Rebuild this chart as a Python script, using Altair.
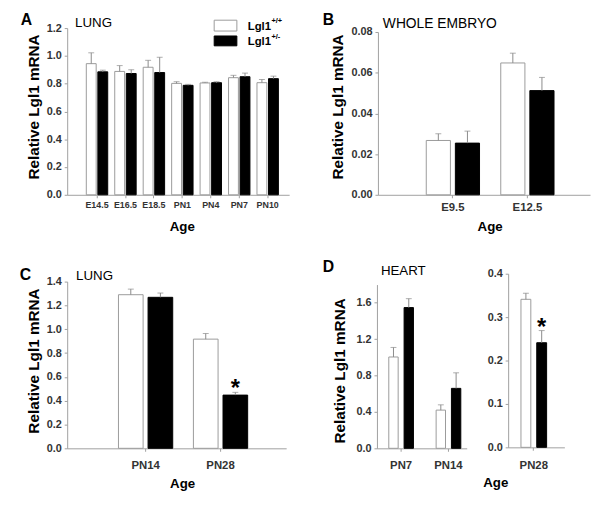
import altair as alt
import pandas as pd

FONT = "Liberation Sans"
genotypes = ["Lgl1+/+", "Lgl1+/-"]

# ---- Panel A: lung, embryonic to PN10
a_ages = ["E14.5", "E16.5", "E18.5", "PN1", "PN4", "PN7", "PN10"]
a_wt = [0.944, 0.888, 0.918, 0.802, 0.805, 0.843, 0.807]
a_wt_top = [1.022, 0.930, 0.968, 0.814, 0.810, 0.860, 0.830]
a_het = [0.885, 0.873, 0.880, 0.788, 0.807, 0.850, 0.836]
a_het_top = [0.897, 0.900, 0.990, 0.795, 0.814, 0.876, 0.854]

# ---- Panel B: whole embryo
b_ages = ["E9.5", "E12.5"]
b_wt = [0.0267, 0.0648]
b_wt_top = [0.0300, 0.0696]
b_het = [0.0254, 0.0512]
b_het_top = [0.0313, 0.0577]

# ---- Panel C: lung PN14 / PN28
c_ages = ["PN14", "PN28"]
c_wt = [1.29, 0.917]
c_wt_top = [1.337, 0.964]
c_het = [1.268, 0.447]
c_het_top = [1.304, 0.470]
c_sig = [False, True]

# ---- Panel D: heart
d_ages = ["PN7", "PN14"]
d_wt = [1.004, 0.42]
d_wt_top = [1.109, 0.478]
d_het = [1.547, 0.659]
d_het_top = [1.645, 0.83]

d2_ages = ["PN28"]
d2_wt = [0.341]
d2_wt_top = [0.355]
d2_het = [0.241]
d2_het_top = [0.269]
d2_sig = [True]

y_title = "Relative Lgl1 mRNA"
x_title = "Age"

W, H = 592, 490


def frame(ages, wt, wt_top, het, het_top, sig=None):
    rows = []
    for i, a in enumerate(ages):
        rows.append({"age": a, "geno": genotypes[0], "value": wt[i], "top": wt_top[i], "sig": False})
        rows.append({"age": a, "geno": genotypes[1], "value": het[i], "top": het_top[i],
                     "sig": bool(sig[i]) if sig else False})
    return pd.DataFrame(rows)


def panel(df, ages, xr, yr, ydom, yticks, yfmt, xlab, xpad, pi, po, al, opi):
    xaxis = alt.Axis(orient="bottom", offset=yr[0] - H, title=None, labelAngle=0,
                     labelFont=FONT, labelFontWeight="bold", labelFontSize=xlab,
                     labelColor="#333333", domainColor="#a0a0a0", tickColor="#a0a0a0",
                     tickSize=3, labelPadding=xpad, grid=False)
    yaxis = alt.Axis(orient="left", offset=-xr[0], title=None, values=yticks, format=yfmt,
                     labelFont=FONT, labelFontWeight="bold", labelFontSize=11,
                     labelColor="#333333", domainColor="#a0a0a0", tickColor="#a0a0a0",
                     tickSize=3, labelPadding=3, grid=False)
    x = alt.X("age:N", sort=ages, axis=xaxis,
              scale=alt.Scale(domain=ages, range=xr, paddingInner=pi, paddingOuter=po, align=al))
    xo = alt.XOffset("geno:N", sort=genotypes,
                     scale=alt.Scale(domain=genotypes, paddingInner=opi, paddingOuter=0))
    ysc = alt.Scale(domain=ydom, range=[yr[0], yr[1]], nice=False, zero=True)
    base = alt.Chart(df).encode(x=x, xOffset=xo)
    bars = base.mark_bar(strokeWidth=1).encode(
        y=alt.Y("value:Q", scale=ysc, axis=yaxis),
        fill=alt.Fill("geno:N", scale=alt.Scale(domain=genotypes, range=["white", "black"]), legend=None),
        stroke=alt.Stroke("geno:N", scale=alt.Scale(domain=genotypes, range=["#9a9a9a", "black"]), legend=None),
    )
    err = base.mark_rule(color="#8a8a8a", strokeWidth=1).encode(y=alt.Y("value:Q"), y2="top:Q")
    cap = base.mark_tick(color="#8a8a8a", thickness=1, size=6).encode(y=alt.Y("top:Q"))
    star = base.transform_filter("datum.sig").mark_text(
        text="*", font=FONT, fontWeight="bold", fontSize=24, baseline="alphabetic", dy=4
    ).encode(y=alt.Y("top:Q"))
    return alt.layer(bars, err, cap, star)


pA = panel(frame(a_ages, a_wt, a_wt_top, a_het, a_het_top), a_ages,
           [60, 285], [186, 17], [0, 1.2], [0, 0.2, 0.4, 0.6, 0.8, 1.0, 1.2], ".1f", 9, 3,
           0.247, 0.525, 0.64, 0.145)
pB = panel(frame(b_ages, b_wt, b_wt_top, b_het, b_het_top), b_ages,
           [375, 590], [186, 21], [0, 0.08], [0, 0.02, 0.04, 0.06, 0.08], ".2f", 11.5, 4,
           0.285, 0.566, 0.573, 0.17)
pC = panel(frame(c_ages, c_wt, c_wt_top, c_het, c_het_top, c_sig), c_ages,
           [60, 282], [443, 274], [0, 1.4], [0, 0.2, 0.4, 0.6, 0.8, 1.0, 1.2, 1.4], ".1f", 11.5, 8,
           0.276, 0.599, 0.571, 0.167)
pD1 = panel(frame(d_ages, d_wt, d_wt_top, d_het, d_het_top), d_ages,
            [374, 465], [443, 277], [0, 1.8], [0, 0.4, 0.8, 1.2, 1.6], ".1f", 11.5, 8,
            0.479, 0.1875, 0.667, 0.387)
pD2 = panel(frame(d2_ages, d2_wt, d2_wt_top, d2_het, d2_het_top, d2_sig), d2_ages,
            [507, 564], [442, 266], [0, 0.4], [0, 0.1, 0.2, 0.3, 0.4], ".1f", 11.5, 9,
            0.0, 0.596, 0.419, 0.375)

one = pd.DataFrame({"k": [0]})


def label(txt, x, y, size, weight="normal", align="left", baseline="alphabetic", angle=0):
    return alt.Chart(one).mark_text(
        text=txt, font=FONT, fontSize=size, fontWeight=weight, align=align,
        baseline=baseline, angle=angle, color="black"
    ).encode(x=alt.value(x), y=alt.value(y))


texts = [
    label("A", 13, 14, 16, "bold"), label("LUNG", 68, 16, 13.5),
    label("B", 319, 14, 16, "bold"), label("WHOLE EMBRYO", 380, 17, 14),
    label("C", 12, 272, 16, "bold"), label("LUNG", 69, 272, 13.5),
    label("D", 319, 264, 16, "bold"), label("HEART", 378, 267, 13.5),
    label(y_title, 26.5, 97, 15.5, "bold", "center", "middle", 270),
    label(y_title, 334.5, 97, 15.5, "bold", "center", "middle", 270),
    label(y_title, 26.5, 354.5, 15.5, "bold", "center", "middle", 270),
    label(y_title, 336.5, 364.5, 15.5, "bold", "center", "middle", 270),
    label(x_title, 176.7, 218.7, 13.5, "bold", "center", "middle"),
    label(x_title, 488.7, 218.7, 13.5, "bold", "center", "middle"),
    label(x_title, 177, 479.5, 13.5, "bold", "center", "middle"),
    label(x_title, 494.5, 478.7, 13.5, "bold", "center", "middle"),
    # legend labels
    label("Lgl1", 243, 18.5, 11.5, "bold"), label("+/+", 267, 12, 7.5, "bold"),
    label("Lgl1", 243, 34.5, 11.5, "bold"), label("+/-", 267, 28, 7.5, "bold"),
]

leg_white = alt.Chart(one).mark_rect(fill="white", stroke="#9a9a9a", strokeWidth=1).encode(
    x=alt.value(209), x2=alt.value(232), y=alt.value(9), y2=alt.value(20))
leg_black = alt.Chart(one).mark_rect(fill="black", stroke="black", strokeWidth=1).encode(
    x=alt.value(209), x2=alt.value(232), y=alt.value(25), y2=alt.value(35))

chart = alt.layer(pA, pB, pC, pD1, pD2, leg_white, leg_black, *texts).resolve_scale(
    x="independent", y="independent", xOffset="independent"
).resolve_axis(x="independent", y="independent").properties(
    width=W, height=H, autosize=alt.AutoSizeParams(type="none"), padding=0
).configure_view(stroke=None)

chart.save("out.html", embed_options={"renderer": "svg", "actions": False})
